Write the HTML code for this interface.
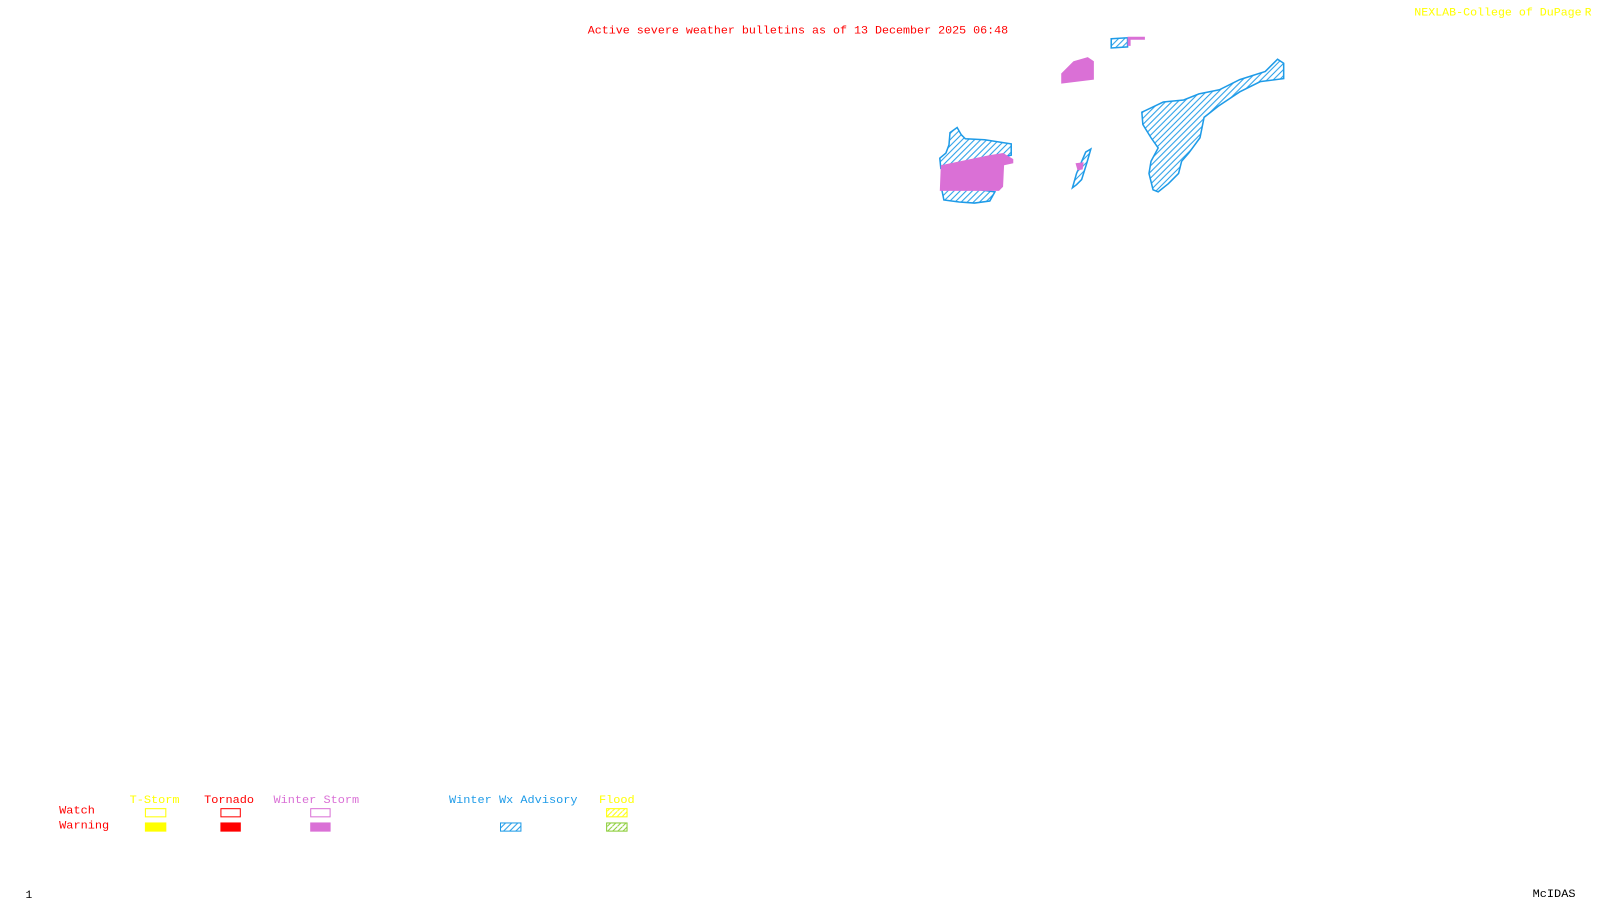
<!DOCTYPE html>
<html><head><meta charset="utf-8"><style>
html,body{margin:0;padding:0;background:#fff;width:1600px;height:900px;overflow:hidden}
svg{display:block}
text{font-family:"Liberation Mono",monospace;font-size:11px}
</style></head><body>
<svg width="1600" height="900" viewBox="0 0 1568 882" preserveAspectRatio="none" xmlns="http://www.w3.org/2000/svg">
<defs>
<pattern id="hb" width="6" height="6" patternUnits="userSpaceOnUse">
<rect width="6" height="6" fill="#fff"/><path d="M0,6 L6,0 M-1,1 L1,-1 M5,7 L7,5" stroke="#1e9be8" stroke-width="1"/></pattern>
<pattern id="hy" width="5" height="5" patternUnits="userSpaceOnUse"><rect width="5" height="5" fill="#fff"/><path d="M0,5 L5,0" stroke="#ff0" stroke-width="1"/></pattern>
<pattern id="hg" width="5" height="5" patternUnits="userSpaceOnUse"><rect width="5" height="5" fill="#fff"/><path d="M0,5 L5,0" stroke="#8c3" stroke-width="1"/></pattern>
</defs>
<text x="576" y="33" fill="#f00" textLength="412" lengthAdjust="spacingAndGlyphs">Active severe weather bulletins as of 13 December 2025 06:48</text>
<text x="1386" y="15" fill="#ff0" textLength="164" lengthAdjust="spacingAndGlyphs">NEXLAB-College of DuPage</text>
<text x="1553" y="15" fill="#ff0">R</text>
<g stroke="#1e9be8" stroke-width="1.5" fill="url(#hb)">
<path d="M1089,38 L1105,37 L1105,46 L1089,47 Z"/>
<path d="M931,130 L938,125 L942,132 L946,136 L965,137 L991,141 L991,152 L960,160 L942,163 L932,165 L922,165 L921,155 L927,150 L930,142 Z"/>
<path d="M923,186 L940,185 L960,186 L975,188 L970,197 L955,199 L940,198 L925,196 Z"/>
<path d="M1064,149 L1069,146 L1065,160 L1060,176 L1055,181 L1051,184 L1055,170 Z"/>
<path d="M1119,110 L1140,100 L1160,98 L1175,92 L1195,88 L1215,78 L1240,70 L1252,58 L1258,62 L1258,77 L1235,80 L1215,90 L1194,104 L1180,115 L1176,135 L1165,150 L1158,158 L1155,170 L1145,180 L1135,188 L1130,186 L1126,170 L1128,158 L1135,145 L1128,135 L1120,122 Z"/>
</g>
<g fill="#da70d6">
<path d="M1105,36 L1122,36 L1122,39 L1108,39 L1108,45 L1105,45 Z"/>
<path d="M1052,60 L1066,56 L1072,60 L1072,78 L1040,82 L1040,72 L1046,66 Z"/>
<path d="M922,162 L970,152 L983,150 L993,156 L993,160 L984,162 L983,183 L979,187 L921,187 Z"/>
<path d="M1054,160 L1062,159 L1061,166 L1056,167 Z"/>
</g>
<text x="58" y="797" fill="#f00" textLength="35" lengthAdjust="spacingAndGlyphs">Watch</text>
<text x="58" y="812" fill="#f00" textLength="49" lengthAdjust="spacingAndGlyphs">Warning</text>
<text x="127" y="787" fill="#ff0" textLength="49" lengthAdjust="spacingAndGlyphs">T-Storm</text>
<text x="200" y="787" fill="#f00" textLength="49" lengthAdjust="spacingAndGlyphs">Tornado</text>
<text x="268" y="787" fill="#da70d6" textLength="84" lengthAdjust="spacingAndGlyphs">Winter Storm</text>
<text x="440" y="787" fill="#1e9be8" textLength="126" lengthAdjust="spacingAndGlyphs">Winter Wx Advisory</text>
<text x="587" y="787" fill="#ff0" textLength="35" lengthAdjust="spacingAndGlyphs">Flood</text>
<rect x="142.5" y="792.5" width="20" height="8" fill="none" stroke="#ff0"/>
<rect x="142" y="806" width="21" height="9" fill="#ff0"/>
<rect x="216.5" y="792.5" width="19" height="8" fill="none" stroke="#f00"/>
<rect x="216" y="806" width="20" height="9" fill="#f00"/>
<rect x="304.5" y="792.5" width="19" height="8" fill="none" stroke="#da70d6"/>
<rect x="304" y="806" width="20" height="9" fill="#da70d6"/>
<rect x="490.5" y="806.5" width="20" height="8" fill="url(#hb)" stroke="#1e9be8"/>
<rect x="594.5" y="792.5" width="20" height="8" fill="url(#hy)" stroke="#ff0"/>
<rect x="594.5" y="806.5" width="20" height="8" fill="url(#hg)" stroke="#8c3"/>
<text x="25" y="880" fill="#000" font-size="10">1</text>
<text x="1502" y="879" fill="#000" textLength="42" lengthAdjust="spacingAndGlyphs">McIDAS</text>
</svg>
</body></html>
